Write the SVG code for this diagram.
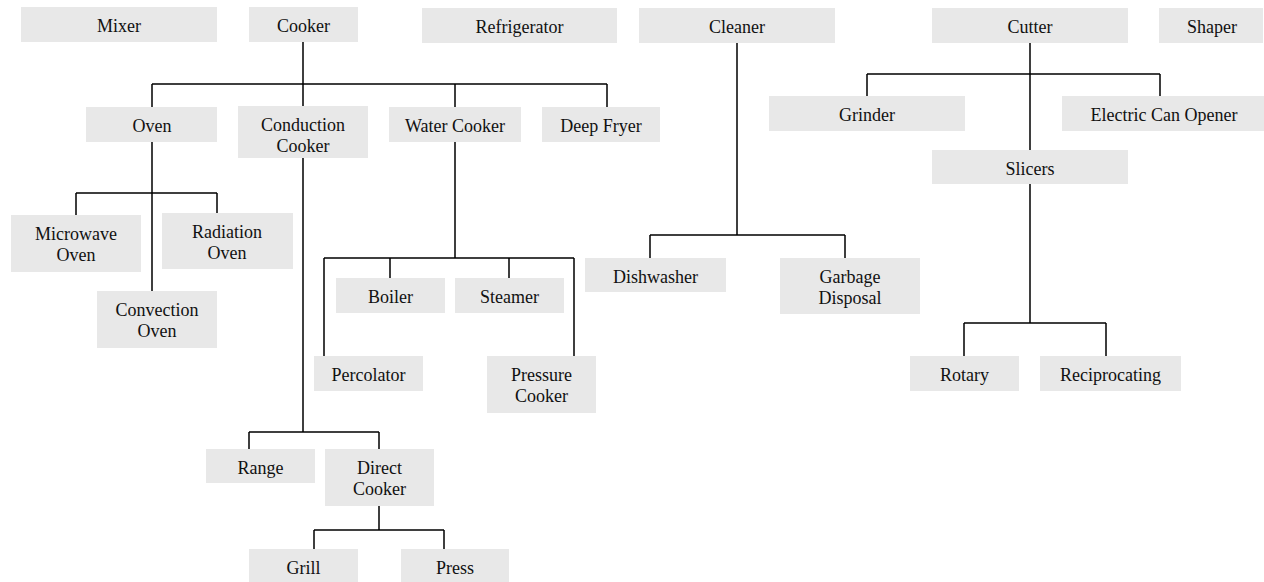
<svg xmlns="http://www.w3.org/2000/svg" width="1264" height="582" viewBox="0 0 1264 582">
<style>
.b{fill:#e8e8e8;stroke:none}
text{font-family:"Liberation Serif","Times New Roman",serif;font-size:18px;fill:#111;text-anchor:middle}
.c{fill:none;stroke:#000;stroke-width:1.5}
</style>
<rect width="1264" height="582" fill="#fff"/>
<g id="connectors" class="c">
<path d="M303 42V84M152 84H607M152 84V107M303 84V106M455 84V107M607 84V107"/>
<path d="M152 142V291M76 193H217M76 193V215M217 193V213"/>
<path d="M303 158V432M249 432H379M249 432V449M379 432V449"/>
<path d="M379 506V530M314 530H444M314 530V549M444 530V549"/>
<path d="M455 142V258M324 258H574M324 258V356M390 258V278M509 258V278M574 258V356"/>
<path d="M737 43V235M650 235H845M650 235V258M845 235V258"/>
<path d="M1030 43V150M867 74H1160M867 74V96M1160 74V96"/>
<path d="M1030 184V323M964 323H1106M964 323V356M1106 323V356"/>
</g>
<g id="mixer"><rect class="b" x="21" y="7" width="196" height="35"/><text x="119" y="32">Mixer</text></g>
<g id="cooker"><rect class="b" x="249" y="7" width="109" height="35"/><text x="303.500" y="32">Cooker</text></g>
<g id="refrigerator"><rect class="b" x="422" y="8" width="195" height="35"/><text x="519.500" y="33">Refrigerator</text></g>
<g id="cleaner"><rect class="b" x="639" y="8" width="196" height="35"/><text x="737" y="33">Cleaner</text></g>
<g id="cutter"><rect class="b" x="932" y="8" width="196" height="35"/><text x="1030" y="33">Cutter</text></g>
<g id="shaper"><rect class="b" x="1159" y="8" width="104" height="35"/><text x="1212" y="33">Shaper</text></g>
<g id="oven"><rect class="b" x="86" y="107" width="131" height="35"/><text x="152" y="132">Oven</text></g>
<g id="conduction-cooker"><rect class="b" x="238" y="106" width="130" height="52"/><text x="303" y="131">Conduction</text><text x="303" y="152">Cooker</text></g>
<g id="water-cooker"><rect class="b" x="389" y="107" width="132" height="35"/><text x="455" y="132">Water Cooker</text></g>
<g id="deep-fryer"><rect class="b" x="542" y="107" width="118" height="35"/><text x="601" y="132">Deep Fryer</text></g>
<g id="grinder"><rect class="b" x="769" y="96" width="196" height="35"/><text x="867" y="121">Grinder</text></g>
<g id="electric-can-opener"><rect class="b" x="1062" y="96" width="202" height="35"/><text x="1164" y="121">Electric Can Opener</text></g>
<g id="slicers"><rect class="b" x="932" y="150" width="196" height="34"/><text x="1030" y="175">Slicers</text></g>
<g id="microwave-oven"><rect class="b" x="11" y="215" width="130" height="57"/><text x="76" y="240">Microwave</text><text x="76" y="261">Oven</text></g>
<g id="radiation-oven"><rect class="b" x="162" y="213" width="131" height="56"/><text x="227" y="238">Radiation</text><text x="227" y="259">Oven</text></g>
<g id="convection-oven"><rect class="b" x="97" y="291" width="120" height="57"/><text x="157" y="316">Convection</text><text x="157" y="337">Oven</text></g>
<g id="boiler"><rect class="b" x="336" y="278" width="109" height="35"/><text x="390.500" y="303">Boiler</text></g>
<g id="steamer"><rect class="b" x="455" y="278" width="109" height="35"/><text x="509.500" y="303">Steamer</text></g>
<g id="percolator"><rect class="b" x="314" y="356" width="109" height="35"/><text x="368.500" y="381">Percolator</text></g>
<g id="pressure-cooker"><rect class="b" x="487" y="356" width="109" height="57"/><text x="541.500" y="381">Pressure</text><text x="541.500" y="402">Cooker</text></g>
<g id="dishwasher"><rect class="b" x="585" y="258" width="141" height="34"/><text x="655.500" y="283">Dishwasher</text></g>
<g id="garbage-disposal"><rect class="b" x="780" y="258" width="140" height="56"/><text x="850" y="283">Garbage</text><text x="850" y="304">Disposal</text></g>
<g id="rotary"><rect class="b" x="910" y="356" width="109" height="35"/><text x="964.500" y="381">Rotary</text></g>
<g id="reciprocating"><rect class="b" x="1040" y="356" width="141" height="35"/><text x="1110.500" y="381">Reciprocating</text></g>
<g id="range"><rect class="b" x="206" y="449" width="109" height="34"/><text x="260.500" y="474">Range</text></g>
<g id="direct-cooker"><rect class="b" x="325" y="449" width="109" height="57"/><text x="379.500" y="474">Direct</text><text x="379.500" y="495">Cooker</text></g>
<g id="grill"><rect class="b" x="249" y="549" width="109" height="33"/><text x="303.500" y="574">Grill</text></g>
<g id="press"><rect class="b" x="401" y="549" width="108" height="33"/><text x="455" y="574">Press</text></g>
</svg>
